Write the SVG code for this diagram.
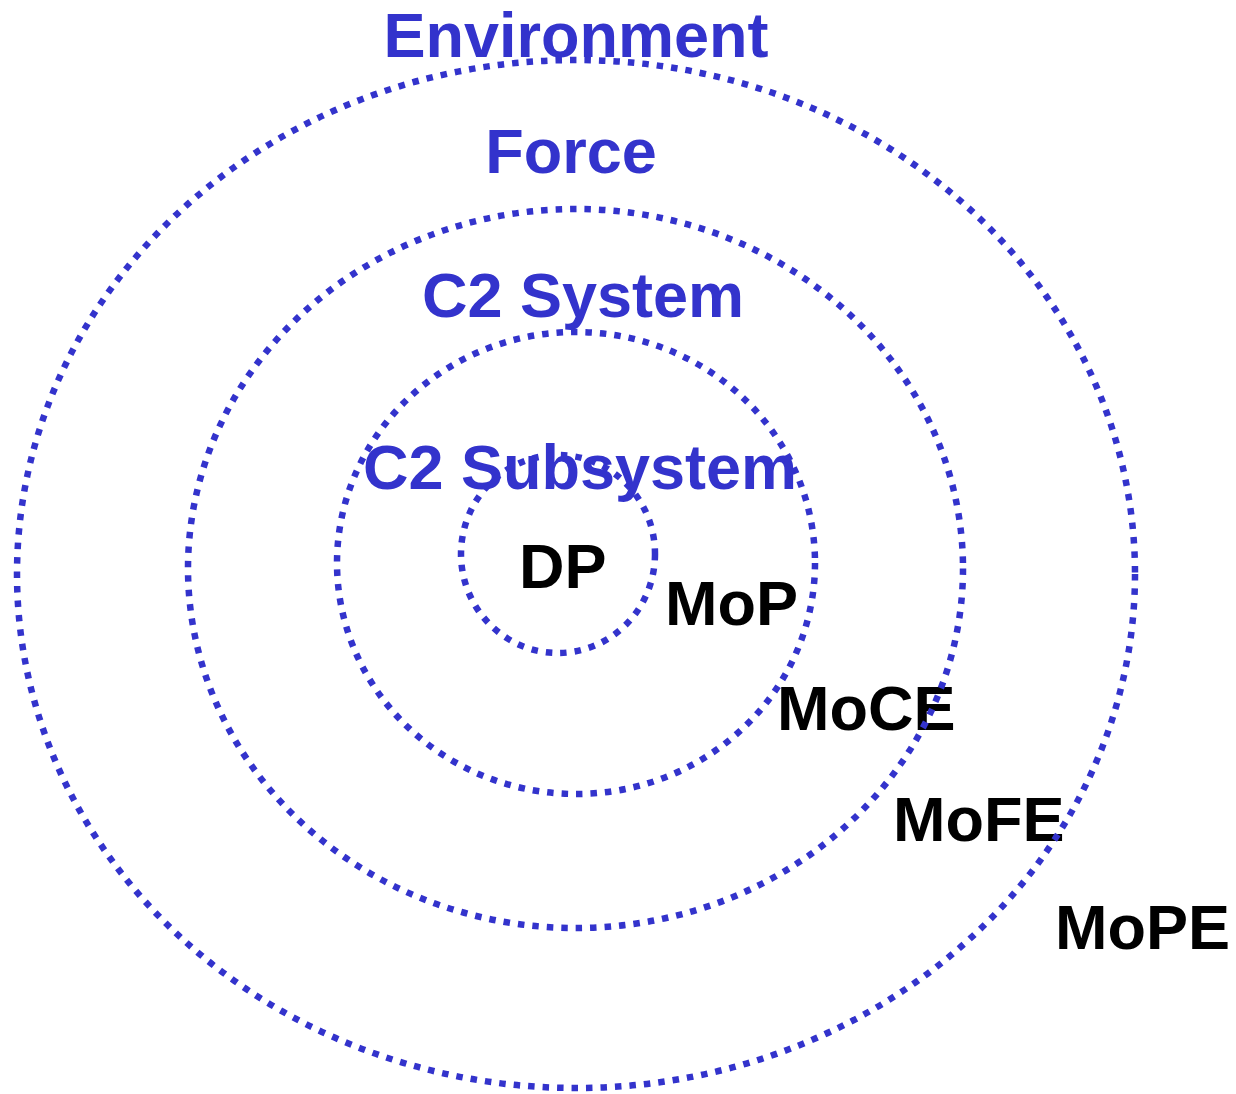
<svg xmlns="http://www.w3.org/2000/svg" width="1236" height="1094" viewBox="0 0 1236 1094">
<style>
.ring{fill:none;stroke:#3333cc;stroke-width:6.5;stroke-dasharray:6.5 8}
.blue{font-family:"Liberation Sans",Arial,sans-serif;font-weight:bold;font-size:63px;fill:#3333cc;text-anchor:middle}
.blk{font-family:"Liberation Sans",Arial,sans-serif;font-weight:bold;font-size:63px;fill:#000}
</style>
<rect width="1236" height="1094" fill="#fff"/>
<g id="labels">
<text id="environment" class="blue" x="576" y="57">Environment</text>
<text id="force" class="blue" x="571" y="173">Force</text>
<text id="c2system" class="blue" x="583" y="317">C2 System</text>
<text id="c2subsystem" class="blue" x="580" y="489">C2 Subsystem</text>
<text id="dp" class="blk" x="519" y="588">DP</text>
<text id="mop" class="blk" x="665" y="625">MoP</text>
<text id="moce" class="blk" x="777" y="730">MoCE</text>
<text id="mofe" class="blk" x="893" y="841">MoFE</text>
<text id="mope" class="blk" x="1055" y="949">MoPE</text>
</g>
<g id="rings">
<ellipse id="ring-environment" class="ring" cx="576" cy="574" rx="559" ry="514"/>
<ellipse id="ring-force" class="ring" cx="575.5" cy="568.5" rx="387.5" ry="359.5"/>
<ellipse id="ring-c2system" class="ring" cx="576" cy="563" rx="239" ry="231"/>
<ellipse id="ring-c2subsystem" class="ring" cx="558" cy="554" rx="97" ry="99"/>
</g>
</svg>
